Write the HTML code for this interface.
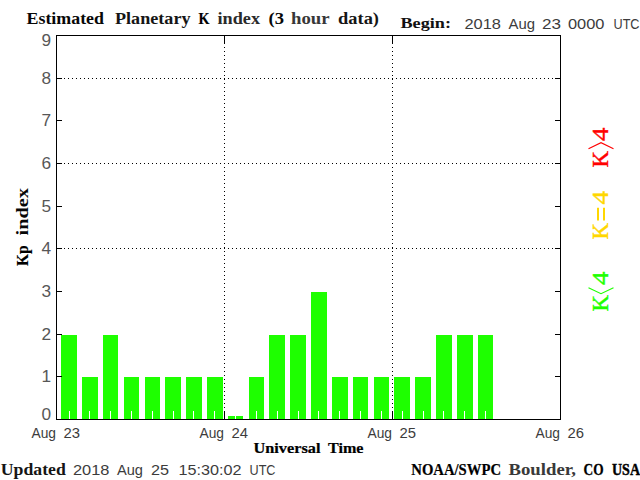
<!DOCTYPE html>
<html><head><meta charset="utf-8"><title>Estimated Planetary K index</title>
<style>
html,body{margin:0;padding:0;background:#fff;overflow:hidden}
svg{display:block}
.s{font-family:"Liberation Sans",sans-serif;fill:#3c3c3c}
.y{font-family:"Liberation Sans",sans-serif;fill:#575757}
.b{font-family:"Liberation Serif",serif;font-weight:bold;fill:#000}
.r{font-family:"Liberation Serif",serif;fill:#000;stroke:#000}
</style></head><body>
<svg width="640" height="480" viewBox="0 0 640 480">
<rect x="0" y="0" width="640" height="480" fill="#fff"/>
<g shape-rendering="crispEdges" fill="#1eff00">
<rect x="61" y="335" width="16" height="84"/>
<rect x="82" y="377" width="16" height="42"/>
<rect x="103" y="335" width="15" height="84"/>
<rect x="124" y="377" width="15" height="42"/>
<rect x="145" y="377" width="15" height="42"/>
<rect x="165" y="377" width="16" height="42"/>
<rect x="186" y="377" width="16" height="42"/>
<rect x="207" y="377" width="16" height="42"/>
<rect x="228" y="416" width="15" height="3"/>
<rect x="249" y="377" width="15" height="42"/>
<rect x="269" y="335" width="16" height="84"/>
<rect x="290" y="335" width="16" height="84"/>
<rect x="311" y="292" width="16" height="127"/>
<rect x="332" y="377" width="16" height="42"/>
<rect x="353" y="377" width="15" height="42"/>
<rect x="374" y="377" width="15" height="42"/>
<rect x="394" y="377" width="16" height="42"/>
<rect x="415" y="377" width="16" height="42"/>
<rect x="436" y="335" width="16" height="84"/>
<rect x="457" y="335" width="16" height="84"/>
<rect x="478" y="335" width="15" height="84"/>
</g>
<g shape-rendering="crispEdges" fill="#fff">
<rect x="69" y="411" width="1" height="8"/>
<rect x="89" y="411" width="1" height="8"/>
<rect x="110" y="411" width="1" height="8"/>
<rect x="131" y="411" width="1" height="8"/>
<rect x="152" y="411" width="1" height="8"/>
<rect x="173" y="411" width="1" height="8"/>
<rect x="193" y="411" width="1" height="8"/>
<rect x="214" y="411" width="1" height="8"/>
<rect x="235" y="411" width="1" height="8"/>
<rect x="256" y="411" width="1" height="8"/>
<rect x="277" y="411" width="1" height="8"/>
<rect x="298" y="411" width="1" height="8"/>
<rect x="318" y="411" width="1" height="8"/>
<rect x="339" y="411" width="1" height="8"/>
<rect x="360" y="411" width="1" height="8"/>
<rect x="381" y="411" width="1" height="8"/>
<rect x="402" y="411" width="1" height="8"/>
<rect x="423" y="411" width="1" height="8"/>
<rect x="443" y="411" width="1" height="8"/>
<rect x="464" y="411" width="1" height="8"/>
<rect x="485" y="411" width="1" height="8"/>
</g>
<g shape-rendering="crispEdges" fill="#000" stroke="none">
<rect x="56" y="35" width="505" height="1"/>
<rect x="56" y="419" width="505" height="1"/>
<rect x="56" y="35" width="1" height="385"/>
<rect x="560" y="35" width="1" height="385"/>
<rect x="57" y="78" width="5" height="1"/>
<rect x="555" y="78" width="5" height="1"/>
<rect x="57" y="120" width="5" height="1"/>
<rect x="555" y="120" width="5" height="1"/>
<rect x="57" y="163" width="5" height="1"/>
<rect x="555" y="163" width="5" height="1"/>
<rect x="57" y="206" width="5" height="1"/>
<rect x="555" y="206" width="5" height="1"/>
<rect x="57" y="248" width="5" height="1"/>
<rect x="555" y="248" width="5" height="1"/>
<rect x="57" y="291" width="5" height="1"/>
<rect x="555" y="291" width="5" height="1"/>
<rect x="57" y="334" width="5" height="1"/>
<rect x="555" y="334" width="5" height="1"/>
<rect x="57" y="376" width="5" height="1"/>
<rect x="555" y="376" width="5" height="1"/>
<rect x="224" y="36" width="1" height="8"/>
<rect x="224" y="411" width="1" height="8"/>
<rect x="392" y="36" width="1" height="8"/>
<rect x="392" y="411" width="1" height="8"/>
</g>
<g shape-rendering="crispEdges" stroke="#000" stroke-width="1" stroke-dasharray="1 3" fill="none">
<line x1="64" y1="78.5" x2="554" y2="78.5"/>
<line x1="64" y1="163.5" x2="554" y2="163.5"/>
<line x1="64" y1="248.5" x2="554" y2="248.5"/>
<line x1="224.5" y1="47" x2="224.5" y2="410" />
<line x1="392.5" y1="47" x2="392.5" y2="410" />
</g>
<text class="y" x="41.4" y="46" font-size="16.3" textLength="9.6" lengthAdjust="spacingAndGlyphs" style="fill:#575757">9</text>
<text class="y" x="41.4" y="84.2" font-size="16.3" textLength="9.6" lengthAdjust="spacingAndGlyphs" style="fill:#575757">8</text>
<text class="y" x="41.4" y="126.2" font-size="16.3" textLength="9.6" lengthAdjust="spacingAndGlyphs" style="fill:#575757">7</text>
<text class="y" x="41.4" y="169.2" font-size="16.3" textLength="9.6" lengthAdjust="spacingAndGlyphs" style="fill:#575757">6</text>
<text class="y" x="41.4" y="212.2" font-size="16.3" textLength="9.6" lengthAdjust="spacingAndGlyphs" style="fill:#575757">5</text>
<text class="y" x="41.4" y="254.2" font-size="16.3" textLength="9.6" lengthAdjust="spacingAndGlyphs" style="fill:#575757">4</text>
<text class="y" x="41.4" y="297.2" font-size="16.3" textLength="9.6" lengthAdjust="spacingAndGlyphs" style="fill:#575757">3</text>
<text class="y" x="41.4" y="340.2" font-size="16.3" textLength="9.6" lengthAdjust="spacingAndGlyphs" style="fill:#575757">2</text>
<text class="y" x="41.4" y="382.2" font-size="16.3" textLength="9.6" lengthAdjust="spacingAndGlyphs" style="fill:#575757">1</text>
<text class="y" x="41.4" y="420" font-size="16.3" textLength="9.6" lengthAdjust="spacingAndGlyphs" style="fill:#575757">0</text>
<text class="r" x="26.5" y="24" font-size="16.3" textLength="77.5" lengthAdjust="spacingAndGlyphs" font-weight="bold" style="fill:#070707;stroke:#070707" stroke-width="0">Estimated</text>
<text class="r" x="115" y="24" font-size="16.3" textLength="75.5" lengthAdjust="spacingAndGlyphs" font-weight="bold" style="fill:#151515;stroke:#151515" stroke-width="0">Planetary</text>
<text class="r" x="198.5" y="24" font-size="16.3" textLength="11.0" lengthAdjust="spacingAndGlyphs" font-weight="bold" style="fill:#000000;stroke:#000000" stroke-width="0.177">K</text>
<text class="r" x="217.5" y="24" font-size="16.3" textLength="42.5" lengthAdjust="spacingAndGlyphs" font-weight="bold" style="fill:#2a2a2a;stroke:#2a2a2a" stroke-width="0">index</text>
<text class="r" x="268.5" y="24" font-size="16.3" textLength="15.5" lengthAdjust="spacingAndGlyphs" font-weight="bold" style="fill:#070707;stroke:#070707" stroke-width="0">(3</text>
<text class="r" x="291" y="24" font-size="16.3" textLength="38.5" lengthAdjust="spacingAndGlyphs" font-weight="bold" style="fill:#373737;stroke:#373737" stroke-width="0">hour</text>
<text class="r" x="338" y="24" font-size="16.3" textLength="41" lengthAdjust="spacingAndGlyphs" font-weight="bold" style="fill:#151515;stroke:#151515" stroke-width="0">data)</text>
<text class="r" x="400.5" y="28" font-size="15.3" textLength="50.5" lengthAdjust="spacingAndGlyphs" font-weight="bold" style="fill:#111111;stroke:#111111" stroke-width="0">Begin:</text>
<text class="s" x="464.5" y="28.8" font-size="15.5" textLength="36.5" lengthAdjust="spacingAndGlyphs" font-weight="normal" style="fill:#3c3c3c;stroke:#3c3c3c" stroke-width="0">2018</text>
<text class="s" x="508.5" y="28.8" font-size="15.5" textLength="26.5" lengthAdjust="spacingAndGlyphs" font-weight="normal" style="fill:#3c3c3c;stroke:#3c3c3c" stroke-width="0">Aug</text>
<text class="s" x="542" y="28.8" font-size="15.5" textLength="19" lengthAdjust="spacingAndGlyphs" font-weight="normal" style="fill:#3c3c3c;stroke:#3c3c3c" stroke-width="0">23</text>
<text class="s" x="568" y="28.8" font-size="15.5" textLength="36.5" lengthAdjust="spacingAndGlyphs" font-weight="normal" style="fill:#3c3c3c;stroke:#3c3c3c" stroke-width="0">0000</text>
<text class="s" x="613.5" y="28.8" font-size="15.5" textLength="26.0" lengthAdjust="spacingAndGlyphs" font-weight="normal" style="fill:#3c3c3c;stroke:#3c3c3c" stroke-width="0">UTC</text>
<text class="s" x="31.5" y="437.6" font-size="14" textLength="24.5" lengthAdjust="spacingAndGlyphs" font-weight="normal" style="fill:#3c3c3c;stroke:#3c3c3c" stroke-width="0">Aug</text>
<text class="s" x="63.5" y="437.6" font-size="14" textLength="16.5" lengthAdjust="spacingAndGlyphs" font-weight="normal" style="fill:#3c3c3c;stroke:#3c3c3c" stroke-width="0">23</text>
<text class="s" x="199.5" y="437.6" font-size="14" textLength="24.5" lengthAdjust="spacingAndGlyphs" font-weight="normal" style="fill:#3c3c3c;stroke:#3c3c3c" stroke-width="0">Aug</text>
<text class="s" x="231.5" y="437.6" font-size="14" textLength="16.5" lengthAdjust="spacingAndGlyphs" font-weight="normal" style="fill:#3c3c3c;stroke:#3c3c3c" stroke-width="0">24</text>
<text class="s" x="367.5" y="437.6" font-size="14" textLength="24.5" lengthAdjust="spacingAndGlyphs" font-weight="normal" style="fill:#3c3c3c;stroke:#3c3c3c" stroke-width="0">Aug</text>
<text class="s" x="399.5" y="437.6" font-size="14" textLength="16.5" lengthAdjust="spacingAndGlyphs" font-weight="normal" style="fill:#3c3c3c;stroke:#3c3c3c" stroke-width="0">25</text>
<text class="s" x="535.5" y="437.6" font-size="14" textLength="24.5" lengthAdjust="spacingAndGlyphs" font-weight="normal" style="fill:#3c3c3c;stroke:#3c3c3c" stroke-width="0">Aug</text>
<text class="s" x="567.5" y="437.6" font-size="14" textLength="16.5" lengthAdjust="spacingAndGlyphs" font-weight="normal" style="fill:#3c3c3c;stroke:#3c3c3c" stroke-width="0">26</text>
<text class="r" x="253.5" y="452.7" font-size="14" textLength="67.0" lengthAdjust="spacingAndGlyphs" font-weight="bold" style="fill:#000;stroke:#000" stroke-width="0.2">Universal</text>
<text class="r" x="328" y="452.7" font-size="14" textLength="35.5" lengthAdjust="spacingAndGlyphs" font-weight="bold" style="fill:#000;stroke:#000" stroke-width="0.2">Time</text>
<text class="r" x="0.8" y="474.8" font-size="16.6" textLength="65.0" lengthAdjust="spacingAndGlyphs" font-weight="bold" style="fill:#151515;stroke:#151515" stroke-width="0">Updated</text>
<text class="s" x="73" y="474.7" font-size="15" textLength="36.5" lengthAdjust="spacingAndGlyphs" font-weight="normal" style="fill:#3c3c3c;stroke:#3c3c3c" stroke-width="0">2018</text>
<text class="s" x="117" y="474.7" font-size="15" textLength="26" lengthAdjust="spacingAndGlyphs" font-weight="normal" style="fill:#3c3c3c;stroke:#3c3c3c" stroke-width="0">Aug</text>
<text class="s" x="151" y="474.7" font-size="15" textLength="18" lengthAdjust="spacingAndGlyphs" font-weight="normal" style="fill:#3c3c3c;stroke:#3c3c3c" stroke-width="0">25</text>
<text class="s" x="178.5" y="474.7" font-size="15" textLength="63.0" lengthAdjust="spacingAndGlyphs" font-weight="normal" style="fill:#3c3c3c;stroke:#3c3c3c" stroke-width="0">15:30:02</text>
<text class="s" x="249.5" y="474.7" font-size="15" textLength="26.0" lengthAdjust="spacingAndGlyphs" font-weight="normal" style="fill:#3c3c3c;stroke:#3c3c3c" stroke-width="0">UTC</text>
<text class="r" x="411.3" y="474.8" font-size="16.4" textLength="89.7" lengthAdjust="spacingAndGlyphs" font-weight="bold" style="fill:#000000;stroke:#000000" stroke-width="0.225">NOAA/SWPC</text>
<text class="r" x="508.5" y="474.8" font-size="16.4" textLength="67.5" lengthAdjust="spacingAndGlyphs" font-weight="bold" style="fill:#393939;stroke:#393939" stroke-width="0">Boulder,</text>
<text class="r" x="583.5" y="474.8" font-size="16.4" textLength="20.0" lengthAdjust="spacingAndGlyphs" font-weight="bold" style="fill:#000000;stroke:#000000" stroke-width="0.273">CO</text>
<text class="r" x="612" y="474.8" font-size="16.4" textLength="28" lengthAdjust="spacingAndGlyphs" font-weight="bold" style="fill:#000000;stroke:#000000" stroke-width="0.44">USA</text>
<g transform="translate(28,266) rotate(-90)"><text class="r" x="0" y="0" font-size="16.5" textLength="20.5" lengthAdjust="spacingAndGlyphs" font-weight="bold" style="fill:#000000;stroke:#000000" stroke-width="0.156">Kp</text>
<text class="r" x="30.5" y="0" font-size="16.5" textLength="47.5" lengthAdjust="spacingAndGlyphs" font-weight="bold" style="fill:#070707;stroke:#070707" stroke-width="0">index</text>
</g>
<g transform="translate(608,167) rotate(-90)" fill="#ff0000" stroke="#ff0000"><text x="-0.5" y="0" textLength="16.5" lengthAdjust="spacingAndGlyphs" font-family="Liberation Serif" font-size="24" stroke-width="0.42" style="fill:#ff0000">K</text><text x="26" y="0" textLength="13.5" lengthAdjust="spacingAndGlyphs" font-family="Liberation Serif" font-size="24" stroke-width="0.42" style="fill:#ff0000">4</text><path d="M18.3,-19.5 L24.3,-7 L18.3,5.5" fill="none" stroke-width="1.1"/></g>
<g transform="translate(608,239) rotate(-90)" fill="#ffd700" stroke="#ffd700"><text x="-0.5" y="0" textLength="16.5" lengthAdjust="spacingAndGlyphs" font-family="Liberation Serif" font-size="24" stroke-width="0.42" style="fill:#ffd700">K</text><text x="34.5" y="0" textLength="13.5" lengthAdjust="spacingAndGlyphs" font-family="Liberation Serif" font-size="24" stroke-width="0.42" style="fill:#ffd700">4</text><path d="M18.4,-10 H31.3 M18.4,-4 H31.3" fill="none" stroke-width="2"/></g>
<g transform="translate(608,311) rotate(-90)" fill="#1eff00" stroke="#1eff00"><text x="-0.5" y="0" textLength="16.5" lengthAdjust="spacingAndGlyphs" font-family="Liberation Serif" font-size="24" stroke-width="0.42" style="fill:#1eff00">K</text><text x="26" y="0" textLength="13.5" lengthAdjust="spacingAndGlyphs" font-family="Liberation Serif" font-size="24" stroke-width="0.42" style="fill:#1eff00">4</text><path d="M23.3,-19.5 L17.3,-7 L23.3,5.5" fill="none" stroke-width="1.1"/></g>
</svg>
</body></html>
